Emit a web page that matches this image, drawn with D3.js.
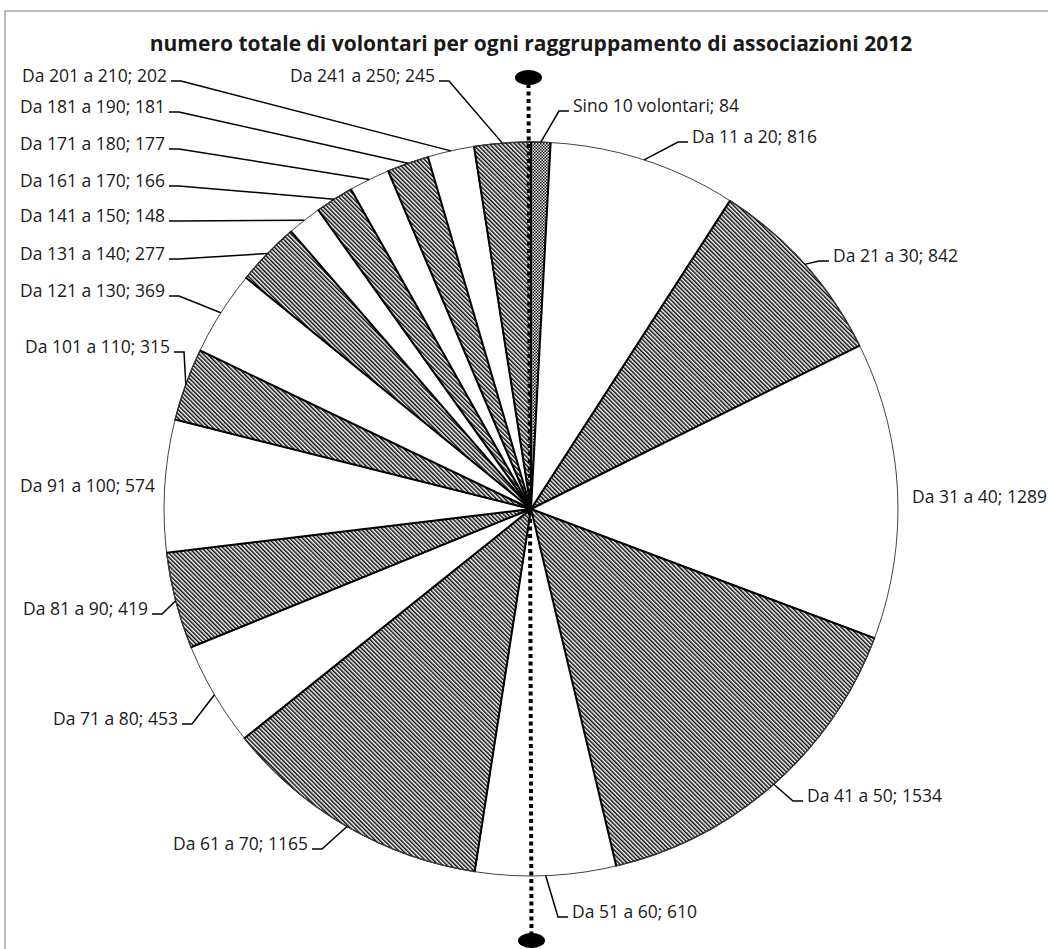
<!DOCTYPE html>
<html>
<head>
<meta charset="utf-8">
<script src="https://cdn.jsdelivr.net/npm/d3@7"></script>
<style>
  body { margin: 0; background: #fff; }
  svg { display: block; }
  text { font-family: "Open Sans", sans-serif; fill: #1a1a1a; }
</style>
</head>
<body>
<div id="chart"></div>
<script>
// data
const title = "numero totale di volontari per ogni raggruppamento di associazioni 2012";
const categories = [
    "Sino 10 volontari", "Da 11 a 20", "Da 21 a 30", "Da 31 a 40", "Da 41 a 50",
    "Da 51 a 60", "Da 61 a 70", "Da 71 a 80", "Da 81 a 90", "Da 91 a 100",
    "Da 101 a 110", "Da 121 a 130", "Da 131 a 140", "Da 141 a 150", "Da 161 a 170",
    "Da 171 a 180", "Da 181 a 190", "Da 201 a 210", "Da 241 a 250"
];
const values = [84, 816, 842, 1289, 1534, 610, 1165, 453, 419, 574, 315, 369, 277, 148, 166, 177, 181, 202, 245];

// label placement (x, baseline, side, leader?) - layout only
const labelLayout = [
    [573, 112, "start", true],
    [692, 143, "start", true],
    [833, 262, "start", true],
    [912, 503, "start", false],
    [807, 802, "start", true],
    [572, 918, "start", true],
    [308, 850, "end", true],
    [178, 725, "end", true],
    [148, 615, "end", true],
    [155, 492, "end", false],
    [170, 353, "end", true],
    [165, 297, "end", true],
    [165, 260, "end", true],
    [165, 222, "end", true],
    [165, 187, "end", true],
    [165, 150, "end", true],
    [165, 113, "end", true],
    [167, 82, "end", true],
    [435, 82, "end", true]
];

const width = 1048, height = 949;
const cx = 531, cy = 509, radius = 367;

const svg = d3.select("#chart").append("svg")
    .attr("width", width)
    .attr("height", height);

// patterns
const defs = svg.append("defs");
defs.append("pattern")
    .attr("id", "hatch")
    .attr("patternUnits", "userSpaceOnUse")
    .attr("width", 3).attr("height", 3)
    .attr("patternTransform", "rotate(-45)")
    .append("line")
    .attr("x1", 0.75).attr("y1", 0).attr("x2", 0.75).attr("y2", 3)
    .attr("stroke", "#000").attr("stroke-width", 1.45);

const check = defs.append("pattern")
    .attr("id", "check")
    .attr("patternUnits", "userSpaceOnUse")
    .attr("width", 3).attr("height", 3);
check.append("rect").attr("width", 3).attr("height", 3).attr("fill", "#fff");
check.append("rect").attr("width", 1.5).attr("height", 1.5).attr("fill", "#000");
check.append("rect").attr("x", 1.5).attr("y", 1.5).attr("width", 1.5).attr("height", 1.5).attr("fill", "#000");

// chart frame
svg.append("path")
    .attr("d", `M5,${height} V11 H${width}`)
    .attr("fill", "none")
    .attr("stroke", "#a6a6a6")
    .attr("stroke-width", 1.5);

// title
svg.append("text")
    .attr("x", cx).attr("y", 51)
    .attr("text-anchor", "middle")
    .style("font-weight", "bold")
    .style("font-size", "21px")
    .text(title);

// pie
const slices = d3.pie().sort(null).value(d => d)(values);
const arc = d3.arc().innerRadius(0).outerRadius(radius);
const fillOf = i => i === 0 ? "url(#check)" : (i % 2 ? "#fff" : "url(#hatch)");

const g = svg.append("g").attr("transform", `translate(${cx},${cy})`);

g.selectAll("path.slice")
    .data(slices)
    .join("path")
    .attr("class", "slice")
    .attr("d", arc)
    .attr("fill", (d, i) => fillOf(i))
    .attr("stroke", (d, i) => i % 2 ? "none" : "#000")
    .attr("stroke-width", 1.3);

g.append("circle")
    .attr("r", radius)
    .attr("fill", "none")
    .attr("stroke", "#444")
    .attr("stroke-width", 1);

// radial edges
g.selectAll("line.edge")
    .data(slices)
    .join("line")
    .attr("class", "edge")
    .attr("x2", d => d3.pointRadial(d.startAngle, radius)[0])
    .attr("y2", d => d3.pointRadial(d.startAngle, radius)[1])
    .attr("stroke", "#000")
    .attr("stroke-width", 2);

// vertical dotted reference line with end markers
svg.append("line")
    .attr("x1", 528.5).attr("y1", 84)
    .attr("x2", 531.5).attr("y2", 934)
    .attr("stroke", "#000")
    .attr("stroke-width", 4)
    .attr("stroke-dasharray", "4,3.5");
svg.append("ellipse").attr("cx", 528.5).attr("cy", 77.5).attr("rx", 13.5).attr("ry", 7.5).attr("fill", "#000");
svg.append("ellipse").attr("cx", 531.5).attr("cy", 940.5).attr("rx", 13.5).attr("ry", 7.5).attr("fill", "#000");

// labels and leader lines
const labels = svg.append("g");
slices.forEach((d, i) => {
    const [x, y, anchor, leader] = labelLayout[i];
    labels.append("text")
        .attr("x", x).attr("y", y)
        .attr("text-anchor", anchor)
        .style("font-size", "17.5px")
        .text(`${categories[i]}; ${values[i]}`);

    if (leader) {
        const p = d3.pointRadial((d.startAngle + d.endAngle) / 2, radius);
        const dir = anchor === "end" ? 1 : -1;
        const x0 = x + dir * 4;
        const x1 = x0 + dir * 10;
        labels.append("path")
            .attr("d", `M${x0},${y - 1} H${x1} L${cx + p[0]},${cy + p[1]}`)
            .attr("fill", "none")
            .attr("stroke", "#000")
            .attr("stroke-width", 1.5);
    }
});
</script>
</body>
</html>
